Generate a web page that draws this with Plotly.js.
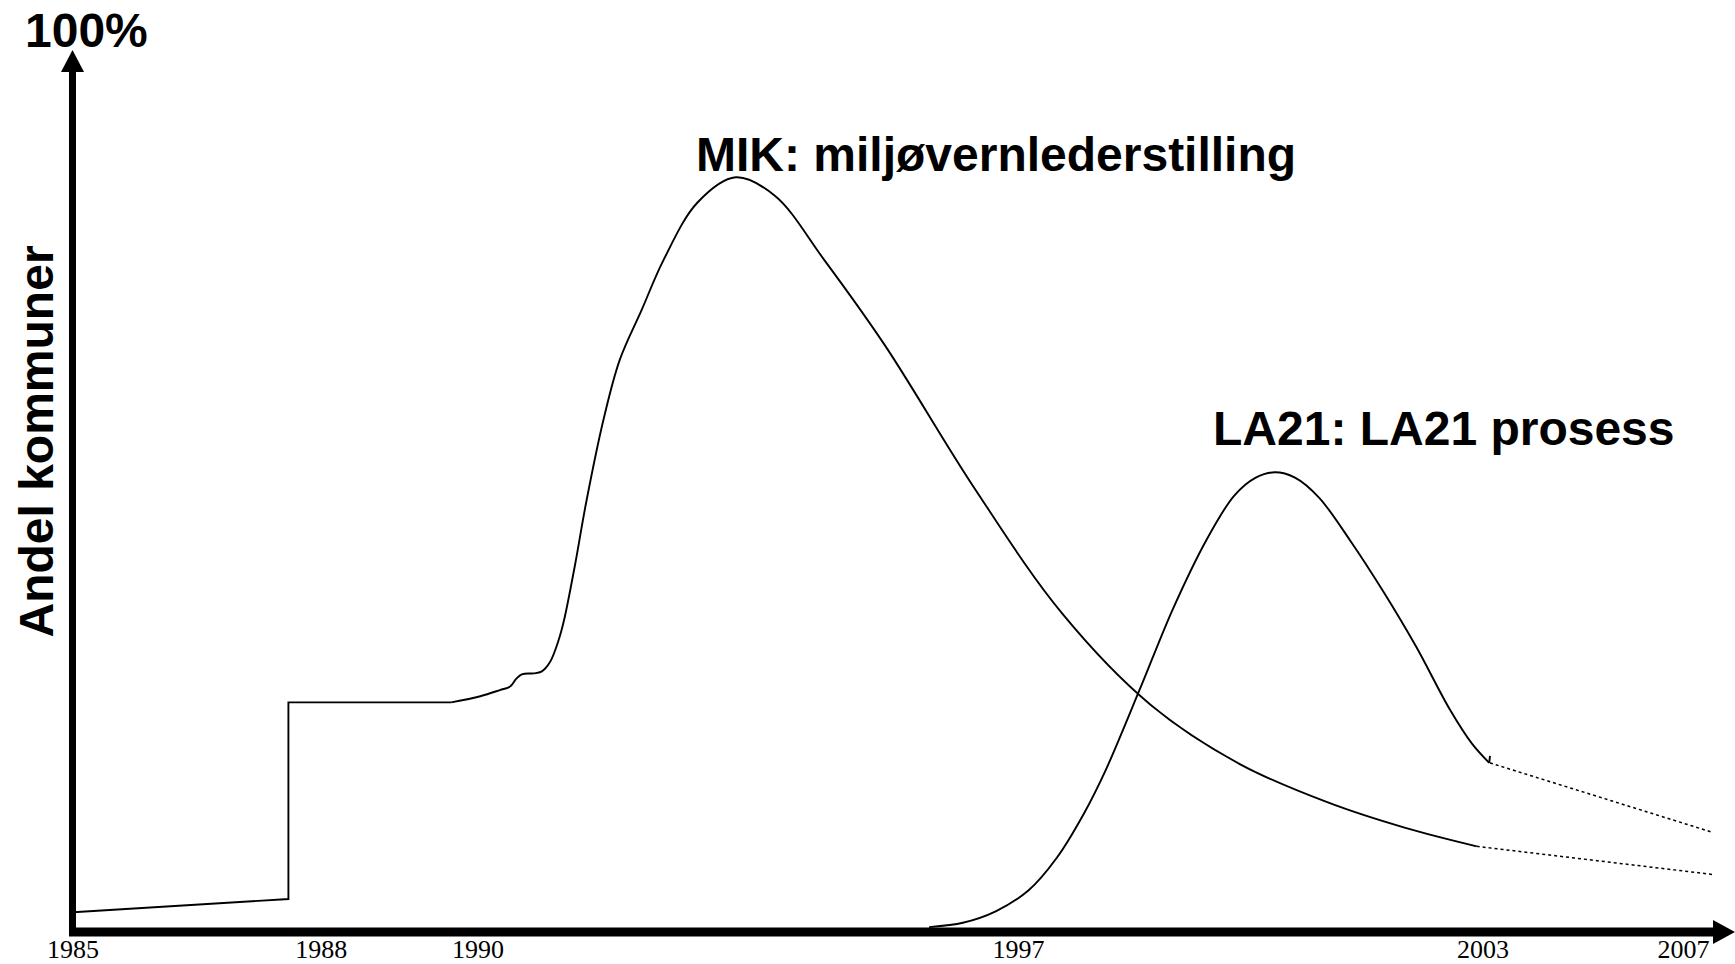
<!DOCTYPE html>
<html>
<head>
<meta charset="utf-8">
<script src="https://cdn.plot.ly/plotly-3.0.1.min.js"></script>
<style>html,body{margin:0;padding:0;background:#fff;}#chart{width:1735px;height:964px;}</style>
</head>
<body>
<div id="chart"></div>
<script>
// ---- data (schematic; y = share of municipalities, %) ----
const tickYears = ["1985", "1988", "1990", "1997", "2003", "2007"];
const tickPositions = [1985, 1988.17, 1990.17, 1997.07, 2003.0, 2005.56];

const mikStepYears = [1985.0, 1987.75, 1987.75, 1989.83];
const mikStepShare = [1.8, 3.3, 25.7, 25.7];

const mikCurveYears = [1989.83, 1990.20, 1990.45, 1990.58, 1990.66, 1990.73, 1990.88, 1990.98, 1991.09, 1991.20, 1991.27, 1991.41, 1991.55, 1991.77, 1991.98, 1992.26, 1992.54, 1992.97, 1993.46, 1993.96, 1994.59, 1995.37, 1996.50, 1997.63, 1998.76, 1999.89, 2001.02, 2002.01, 2002.92];
const mikCurveShare = [25.7, 26.4, 27.1, 27.5, 28.4, 28.9, 29.0, 29.2, 30.3, 32.8, 35.1, 41.4, 48.4, 57.8, 64.7, 70.4, 76.1, 82.6, 85.5, 83.4, 76.1, 66.3, 50.2, 35.8, 25.4, 18.7, 14.3, 11.4, 9.3];

const mikForecastYears = [2002.92, 2005.93];
const mikForecastShare = [9.3, 6.1];

const la21Years = [1995.93, 1996.36, 1996.78, 1997.20, 1997.56, 1997.91, 1998.19, 1998.62, 1999.04, 1999.47, 1999.82, 2000.10, 2000.34, 2000.60, 2000.91, 2001.30, 2001.73, 2002.15, 2002.57, 2002.86, 2003.08];
const la21Share = [0.1, 0.6, 1.9, 4.3, 8.0, 13.1, 18.1, 27.2, 36.3, 44.2, 49.2, 51.3, 51.9, 51.3, 49.0, 44.2, 38.3, 32.0, 25.0, 21.0, 18.8];
const la21HookYears = [2003.08, 2003.09];
const la21HookShare = [18.8, 19.6];

const la21ForecastYears = [2003.09, 2005.93];
const la21ForecastShare = [18.8, 10.9];

// ---- layout geometry (pixels) ----
const W = 1735, H = 964;
const L = 73, R = 0, T = 50, B = 36;
const PW = W - L - R, PH = H - T - B;
const PX_PER_YEAR = 78.33;
const px = x => (x - L) / PW;
const py = y => (H - B - y) / PH;

const lineStyle = {color: '#000', width: 1.9};
const dotStyle = {color: '#000', width: 1.5, dash: 'dot'};
const traces = [
  {x: mikStepYears, y: mikStepShare, mode: 'lines', line: Object.assign({shape: 'linear'}, lineStyle)},
  {x: mikCurveYears, y: mikCurveShare, mode: 'lines', line: Object.assign({shape: 'spline', smoothing: 1.0}, lineStyle)},
  {x: mikForecastYears, y: mikForecastShare, mode: 'lines', line: dotStyle},
  {x: la21Years, y: la21Share, mode: 'lines', line: Object.assign({shape: 'spline', smoothing: 0.9}, lineStyle)},
  {x: la21HookYears, y: la21HookShare, mode: 'lines', line: lineStyle},
  {x: la21ForecastYears, y: la21ForecastShare, mode: 'lines', line: dotStyle}
];

const boldFont = {family: '"Liberation Sans", Arial, sans-serif', size: 48, color: '#000'};

const shapes = [
  // y axis shaft
  {type: 'line', xref: 'paper', yref: 'paper', x0: px(72.5), x1: px(72.5), y0: py(936), y1: py(70), line: {color: '#000', width: 7}},
  // y axis arrow head
  {type: 'path', xref: 'paper', yref: 'paper', fillcolor: '#000', line: {width: 0},
   path: `M ${px(72.5)} ${py(50)} L ${px(61)} ${py(72)} L ${px(84)} ${py(72)} Z`},
  // x axis shaft
  {type: 'line', xref: 'paper', yref: 'paper', x0: px(69), x1: px(1716), y0: py(932), y1: py(932), line: {color: '#000', width: 9}},
  // x axis arrow head
  {type: 'path', xref: 'paper', yref: 'paper', fillcolor: '#000', line: {width: 0},
   path: `M ${px(1735)} ${py(932)} L ${px(1713)} ${py(920)} L ${px(1713)} ${py(944)} Z`}
];

const annotations = [
  {text: '<b>100%</b>', xref: 'paper', yref: 'paper', x: px(86), y: py(31), xanchor: 'center', yanchor: 'middle', showarrow: false,
   font: boldFont},
  {text: '<b>Andel kommuner</b>', xref: 'paper', yref: 'paper', x: px(35.5), y: py(442), xanchor: 'center', yanchor: 'middle', showarrow: false,
   textangle: -90, font: boldFont},
  {text: '<b>MIK: miljøvernlederstilling</b>', xref: 'paper', yref: 'paper', x: px(996), y: py(154.5), xanchor: 'center', yanchor: 'middle', showarrow: false,
   font: boldFont},
  {text: '<b>LA21: LA21 prosess</b>', xref: 'paper', yref: 'paper', x: px(1444), y: py(429), xanchor: 'center', yanchor: 'middle', showarrow: false,
   font: boldFont}
];

const layout = {
  width: W, height: H,
  margin: {l: L, r: R, t: T, b: B, pad: 0},
  paper_bgcolor: '#fff', plot_bgcolor: '#fff',
  showlegend: false,
  hovermode: false,
  xaxis: {
    range: [1985, 1985 + PW / PX_PER_YEAR],
    tickmode: 'array', tickvals: tickPositions, ticktext: tickYears,
    showgrid: false, zeroline: false, showline: false, ticks: '',
    ticklabelstandoff: 3,
    tickfont: {family: '"Liberation Serif", "Times New Roman", serif', size: 26, color: '#000'},
    fixedrange: true
  },
  yaxis: {range: [0, 100], visible: false, showgrid: false, zeroline: false, fixedrange: true},
  shapes: shapes,
  annotations: annotations
};

Plotly.newPlot('chart', traces, layout, {staticPlot: true, displayModeBar: false});
</script>
</body>
</html>
